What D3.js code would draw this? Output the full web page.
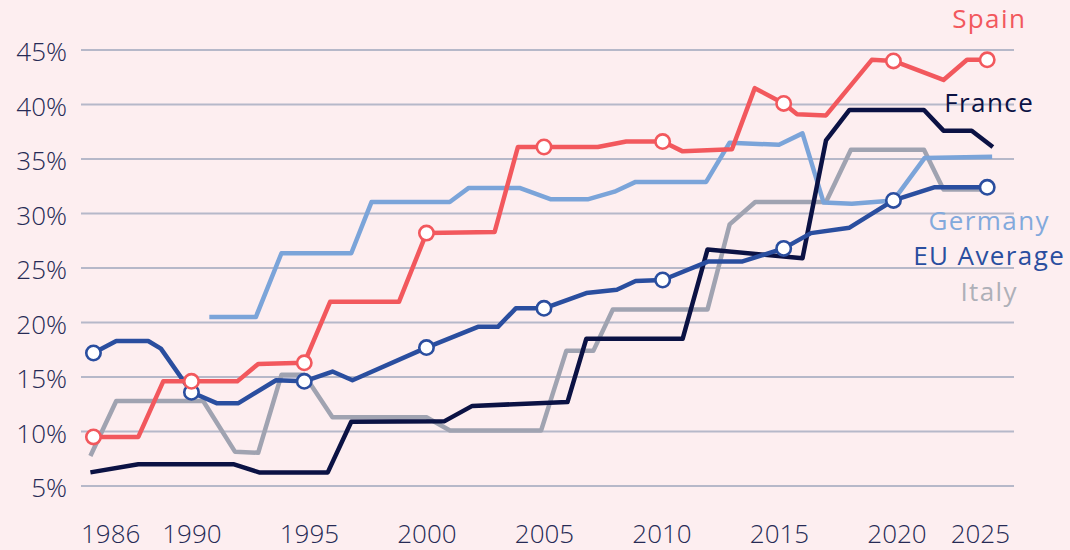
<!DOCTYPE html>
<html>
<head>
<meta charset="utf-8">
<script src="https://cdn.jsdelivr.net/npm/d3@7"></script>
<style>
  html, body { margin: 0; padding: 0; background: #fdeef0; }
  svg { display: block; font-family: "Open Sans", sans-serif; }
</style>
</head>
<body>
<svg id="chart" width="1070" height="550"></svg>
<script>
// Share of seats held by women, by country (decimal year, percent)
const spain = [
  [1985.83, 9.5], [1987.74, 9.5], [1988.8, 14.6], [1990.0, 14.6], [1991.95, 14.6],
  [1992.84, 16.2], [1994.8, 16.3], [1995.9, 21.9], [1998.83, 21.9], [2000.0, 28.2],
  [2002.9, 28.3], [2003.89, 36.1], [2005.0, 36.1], [2007.29, 36.1], [2008.5, 36.6],
  [2010.05, 36.6], [2010.9, 35.7], [2013.0, 35.9], [2013.97, 41.5], [2015.2, 40.1],
  [2015.77, 39.1], [2017.0, 39.0], [2018.95, 44.1], [2019.87, 44.0], [2022.0, 42.25],
  [2023.0, 44.1], [2023.86, 44.1]
];
const france = [
  [1985.7, 6.25], [1987.74, 7.0], [1991.78, 7.0], [1992.88, 6.25], [1995.8, 6.25],
  [1996.8, 10.9], [2000.77, 10.95], [2001.95, 12.35], [2006.0, 12.7], [2006.8, 18.5],
  [2010.9, 18.5], [2011.96, 26.7], [2016.0, 25.9], [2017.0, 36.7], [2018.0, 39.5],
  [2021.17, 39.5], [2022.0, 37.6], [2023.2, 37.6], [2024.1, 36.1]
];
const germany = [
  [1990.76, 20.5], [1992.74, 20.5], [1993.83, 26.35], [1996.8, 26.35], [1997.66, 31.05],
  [2000.99, 31.05], [2001.8, 32.35], [2003.96, 32.35], [2005.3, 31.3], [2006.86, 31.3],
  [2008.0, 32.0], [2008.9, 32.9], [2011.9, 32.9], [2012.9, 36.5], [2015.0, 36.3],
  [2016.0, 37.35], [2016.9, 31.0], [2018.1, 30.9], [2019.87, 31.2], [2021.2, 35.1],
  [2024.07, 35.2]
];
const euAverage = [
  [1985.83, 17.2], [1986.8, 18.3], [1988.16, 18.3], [1988.7, 17.6], [1990.0, 13.6],
  [1991.07, 12.6], [1992.0, 12.6], [1993.6, 14.7], [1994.8, 14.6], [1996.0, 15.5],
  [1996.85, 14.7], [2000.0, 17.7], [2002.19, 19.6], [2003.04, 19.6], [2003.8, 21.3],
  [2005.0, 21.3], [2006.8, 22.7], [2008.1, 23.0], [2008.9, 23.8], [2010.05, 23.9],
  [2012.0, 25.6], [2013.45, 25.6], [2015.2, 26.8], [2016.36, 28.2], [2018.0, 28.7],
  [2019.87, 31.2], [2021.6, 32.4], [2023.86, 32.4]
];
const italy = [
  [1985.7, 7.75], [1986.8, 12.8], [1990.5, 12.8], [1991.85, 8.15], [1992.84, 8.05],
  [1993.83, 15.2], [1994.8, 15.2], [1996.0, 11.3], [2000.0, 11.3], [2001.0, 10.1],
  [2004.88, 10.1], [2005.95, 17.4], [2007.1, 17.4], [2007.93, 21.2], [2011.96, 21.2],
  [2012.9, 29.0], [2013.99, 31.05], [2017.0, 31.05], [2018.06, 35.85], [2021.17, 35.85],
  [2022.0, 32.2], [2024.07, 32.2]
];

// Times at which the highlighted series carry a circle marker
const markerTimes = [1985.83, 1990.0, 1994.8, 2000.0, 2005.0, 2010.05, 2015.2, 2019.87, 2023.86];

const yTicks = [5, 10, 15, 20, 25, 30, 35, 40, 45];
const xTicks = [1986, 1990, 1995, 2000, 2005, 2010, 2015, 2020, 2025];

// Draw order: back to front; labelY is the label baseline in axis units
const series = [
  { name: "Italy",      data: italy,     color: "#a0a3b1", labelColor: "#aeb0b8", labelY: 22.0,  markers: false },
  { name: "Germany",    data: germany,   color: "#7ba4d9", labelColor: "#82a9dc", labelY: 28.5,  markers: false },
  { name: "France",     data: france,    color: "#0b1244", labelColor: "#0b1244", labelY: 39.35, markers: false },
  { name: "EU Average", data: euAverage, color: "#2a4e9f", labelColor: "#2a4e9f", labelY: 25.3,  markers: true },
  { name: "Spain",      data: spain,     color: "#f2585d", labelColor: "#f2585d", labelY: 47.0,  markers: true }
];

const svg = d3.select("#chart");

const x = d3.scaleLinear().domain([1985.3, 2025]).range([81, 1014]);
const y = d3.scaleLinear().domain([5, 45]).range([486, 50]);

// Horizontal gridlines
svg.append("g")
  .selectAll("line")
  .data(yTicks)
  .join("line")
  .attr("x1", x.range()[0])
  .attr("x2", x.range()[1])
  .attr("y1", d => y(d))
  .attr("y2", d => y(d))
  .attr("stroke", "#b6b8c9")
  .attr("stroke-width", 2);

// Y axis labels
const yAxis = svg.append("g")
  .attr("transform", "translate(67,0)")
  .call(d3.axisLeft(y).tickValues(yTicks).tickFormat(d => d + "%").tickSize(0).tickPadding(0));
yAxis.select(".domain").remove();
yAxis.selectAll("text")
  .attr("fill", "#262a55")
  .attr("font-size", 26)
  .attr("font-weight", 300)
  .attr("font-family", "Open Sans, sans-serif")
  .attr("dy", "0.42em");

// X axis labels; the end years sit flush with the plot edges
const xAxis = svg.append("g")
  .attr("transform", "translate(0,522)")
  .call(d3.axisBottom(x).tickValues(xTicks).tickFormat(d3.format("d")).tickSize(0).tickPadding(0));
xAxis.select(".domain").remove();
xAxis.selectAll("text")
  .attr("fill", "#262a55")
  .attr("font-size", 26)
  .attr("font-weight", 300)
  .attr("font-family", "Open Sans, sans-serif")
  .attr("dy", "0.82em");
const xt = xAxis.selectAll(".tick");
xt.filter((d, i) => i === 0)
  .attr("transform", `translate(${x.range()[0]},0)`)
  .select("text").attr("text-anchor", "start");
xt.filter((d, i, n) => i === n.length - 1)
  .attr("transform", `translate(${x.range()[1] - 4},0)`)
  .select("text").attr("text-anchor", "end");

// Lines
const line = d3.line().x(d => x(d[0])).y(d => y(d[1]));
svg.append("g")
  .selectAll("path")
  .data(series)
  .join("path")
  .attr("d", s => line(s.data))
  .attr("fill", "none")
  .attr("stroke", s => s.color)
  .attr("stroke-width", 4.5)
  .attr("stroke-linejoin", "round")
  .attr("stroke-linecap", "butt");

// Circle markers
const markerGroups = svg.append("g")
  .selectAll("g")
  .data(series.filter(s => s.markers))
  .join("g");
markerGroups.selectAll("circle")
  .data(s => s.data.filter(p => markerTimes.includes(p[0])).map(p => ({ p, color: s.color })))
  .join("circle")
  .attr("cx", d => x(d.p[0]))
  .attr("cy", d => y(d.p[1]))
  .attr("r", 7.2)
  .attr("fill", "#ffffff")
  .attr("stroke", d => d.color)
  .attr("stroke-width", 2.6);

// Series labels at the right end
const labelX = x(markerTimes[markerTimes.length - 1]) + 2;
svg.append("g")
  .selectAll("text")
  .data(series)
  .join("text")
  .attr("x", labelX)
  .attr("y", s => y(s.labelY))
  .attr("text-anchor", "middle")
  .attr("fill", s => s.labelColor)
  .attr("font-size", 26)
  .attr("letter-spacing", 1.4)
  .text(s => s.name);
</script>
</body>
</html>
